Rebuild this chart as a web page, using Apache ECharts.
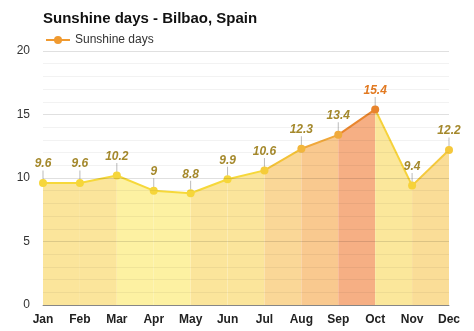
<!DOCTYPE html>
<html><head><meta charset="utf-8">
<script src="https://cdn.jsdelivr.net/npm/echarts@6/dist/echarts.min.js"></script>
<style>html,body{margin:0;padding:0;background:#fff}#c{width:474px;height:331px}</style>
</head><body><div id="c"></div>
<script>
const months = ['Jan','Feb','Mar','Apr','May','Jun','Jul','Aug','Sep','Oct','Nov','Dec'];
const sunshineDays = [9.6, 9.6, 10.2, 9, 8.8, 9.9, 10.6, 12.3, 13.4, 15.4, 9.4, 12.2];
const yTicks = [0, 5, 10, 15, 20];

const areaColors = ['#fbe59b','#fbe59b','#fdf1a2','#fdf1a2','#fbe59b','#fbe59b','#fad797','#f9c98f','#f6af84','#fbe79b','#fadd97'];
const lineColors = ['#f6d83a','#f6d83a','#f6d83a','#f6d83a','#f6d83a','#f6d83a','#f3c236','#f0a83a','#e9862e','#f6d23a','#f5c93c'];
const pointColors = ['#f6d63a','#f6d63a','#f6d63a','#f6d63a','#f6d63a','#f6d63a','#f5cc3a','#f2b63c','#f0aa3c','#e8842c','#f6d23a','#f5c83c'];
const labelColors = months.map((m,i)=> i===9 ? '#e27a22' : '#a5892c');

const series = [];
for (let i = 0; i < months.length - 1; i++) {
  const d = sunshineDays.map((v, j) => (j === i || j === i + 1) ? v : null);
  series.push({
    type: 'line', data: d, symbol: 'none', silent: true,
    lineStyle: { color: lineColors[i], width: 2 },
    areaStyle: { color: areaColors[i], opacity: 1 },
    z: 2
  });
}
series.push({
  type: 'scatter', data: sunshineDays, symbol: 'rect', symbolSize: [1, 9], symbolOffset: [0, -8],
  itemStyle: { color: '#aaaaaa' }, silent: true, z: 3
});
series.push({
  name: 'Sunshine days', type: 'line', data: sunshineDays.map((v,i)=>({value:v, itemStyle:{color:pointColors[i]}, label:{color:labelColors[i]}})),
  symbol: 'circle', symbolSize: 8,
  lineStyle: { width: 0, color: '#f0a030' },
  itemStyle: { color: '#f0a030' },
  label: { show: true, position: 'top', distance: 9, fontFamily: 'Liberation Sans, Arial', fontSize: 12, fontWeight: 'bold', fontStyle: 'italic', color: '#a5892c' },
  z: 4
});

const chart = echarts.init(document.getElementById('c'));
chart.setOption({
  animation: false,
  title: { text: 'Sunshine days - Bilbao, Spain', left: 38, top: 6, textStyle: { fontFamily: 'Liberation Sans, Arial', fontSize: 15, fontWeight: 'bold', color: '#111' } },
  legend: { data: ['Sunshine days'], left: 40, top: 29, itemWidth: 24, itemHeight: 10,
    lineStyle: { color: '#f09a30', width: 2 }, itemStyle: { color: '#f09a30' },
    textStyle: { fontFamily: 'Liberation Sans, Arial', fontSize: 12, color: '#333' } },
  grid: { left: 43, right: 25, top: 51, bottom: 26 },
  xAxis: { type: 'category', data: months, boundaryGap: false,
    axisLine: { lineStyle: { color: '#999', width: 1 } }, axisTick: { show: false },
    axisLabel: { fontFamily: 'Liberation Sans, Arial', fontSize: 12, fontWeight: 'bold', color: '#222', margin: 9 },
    splitLine: { show: false } },
  yAxis: { type: 'value', min: yTicks[0], max: yTicks[yTicks.length-1], interval: 5, z: 5,
    axisLabel: { fontFamily: 'Liberation Sans, Arial', fontSize: 12, color: '#333', margin: 13 },
    axisLine: { show: false }, axisTick: { show: false },
    splitLine: { lineStyle: { color: 'rgba(0,0,0,0.12)', width: 1 } },
    minorTick: { show: false, splitNumber: 5 },
    minorSplitLine: { show: true, lineStyle: { color: 'rgba(0,0,0,0.05)', width: 1 } } },
  series: series
});
</script></body></html>
